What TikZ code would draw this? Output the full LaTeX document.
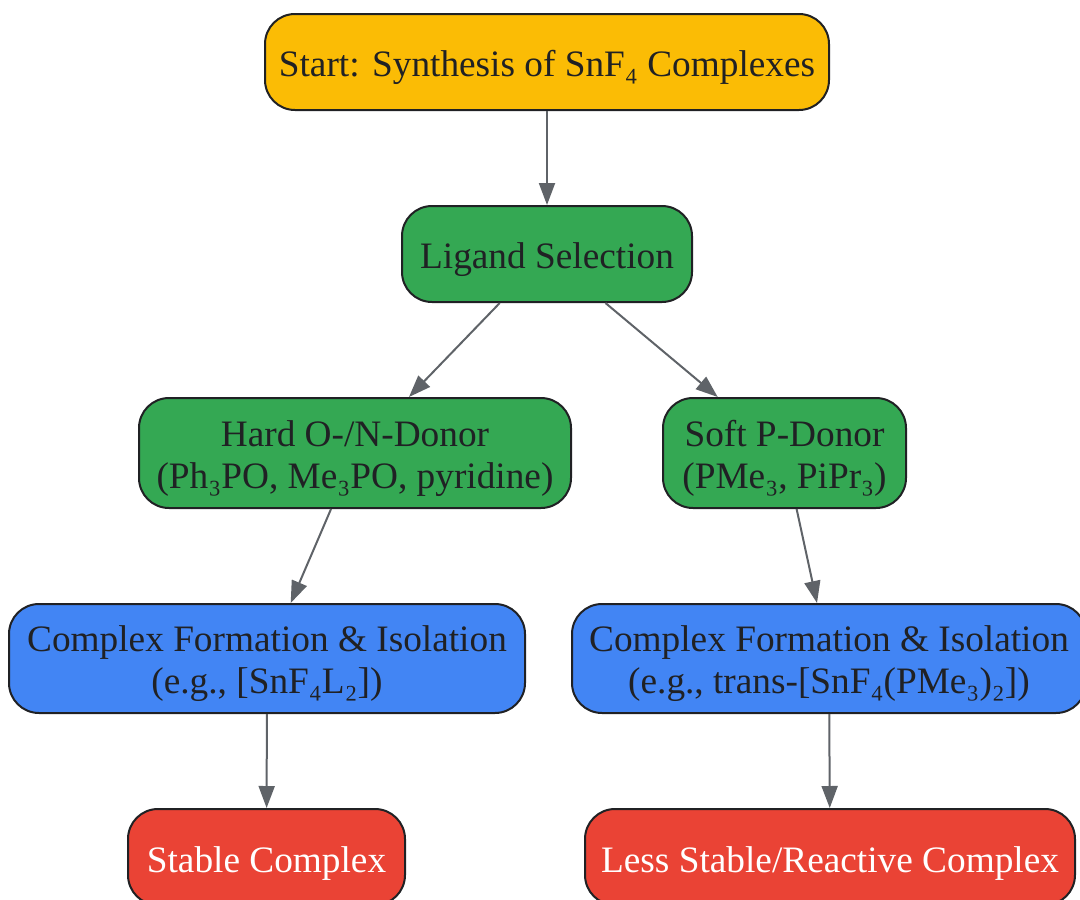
\documentclass[tikz,border=0pt]{standalone}
\usepackage{fontspec}
\setmainfont{Liberation Serif}
\usetikzlibrary{arrows.meta}
\definecolor{cyellow}{HTML}{FBBC05}
\definecolor{cgreen}{HTML}{34A853}
\definecolor{cblue}{HTML}{4285F4}
\definecolor{cred}{HTML}{EA4335}
\definecolor{ctext}{HTML}{202124}
\definecolor{cedge}{HTML}{5F6368}
\definecolor{cborder}{HTML}{202124}
\newcommand{\mystrut}{\rule{0pt}{37pt}}
\begin{document}
\begin{tikzpicture}[x=1pt,y=1pt,
  box/.style={draw=cborder, line width=2pt, rounded corners=30pt, inner sep=0pt,
    align=center, text=ctext, font=\fontsize{37.3}{42}\selectfont},
  oneline/.style={execute at begin node={\rule{0pt}{38pt}}},
  conn/.style={draw=cedge, line width=2pt, -{Triangle[length=22pt,width=16pt]}}]
\useasboundingbox (0,0) rectangle (1080,-900);
\node[box, oneline, fill=cyellow, minimum width=564pt, minimum height=96pt] (start) at (547,-62) {Start: Synthesis of SnF₄ Complexes};
\node[box, oneline, fill=cgreen, minimum width=290pt, minimum height=96pt] (lig) at (547,-254) {Ligand Selection};
\node[box, fill=cgreen, minimum width=432pt, minimum height=110pt] (hard) at (355,-453) {\mystrut Hard O-/N-Donor\\(Ph₃PO, Me₃PO, pyridine)};
\node[box, fill=cgreen, minimum width=243pt, minimum height=110pt] (soft) at (784.5,-453) {\mystrut Soft P-Donor\\(PMe₃, PiPr₃)};
\node[box, fill=cblue, minimum width=516pt, minimum height=109pt] (cl) at (267,-658.5) {\mystrut Complex Formation \& Isolation\\(e.g., [SnF₄L₂])};
\node[box, fill=cblue, minimum width=514pt, minimum height=109pt] (cr) at (829,-658.5) {\mystrut Complex Formation \& Isolation\\(e.g., trans-[SnF₄(PMe₃)₂])};
\node[box, oneline, fill=cred, text=white, minimum width=277pt, minimum height=96pt] (stable) at (266.5,-857) {Stable Complex};
\node[box, oneline, fill=cred, text=white, minimum width=490pt, minimum height=96pt] (less) at (830,-857) {Less Stable/Reactive Complex};
\draw[conn] (start) -- (lig);
\draw[conn] (lig) -- (hard);
\draw[conn] (lig) -- (soft);
\draw[conn] (hard) -- (cl);
\draw[conn] (soft) -- (cr);
\draw[conn] (cl) -- (stable);
\draw[conn] (cr) -- (less);
\end{tikzpicture}
\end{document}
